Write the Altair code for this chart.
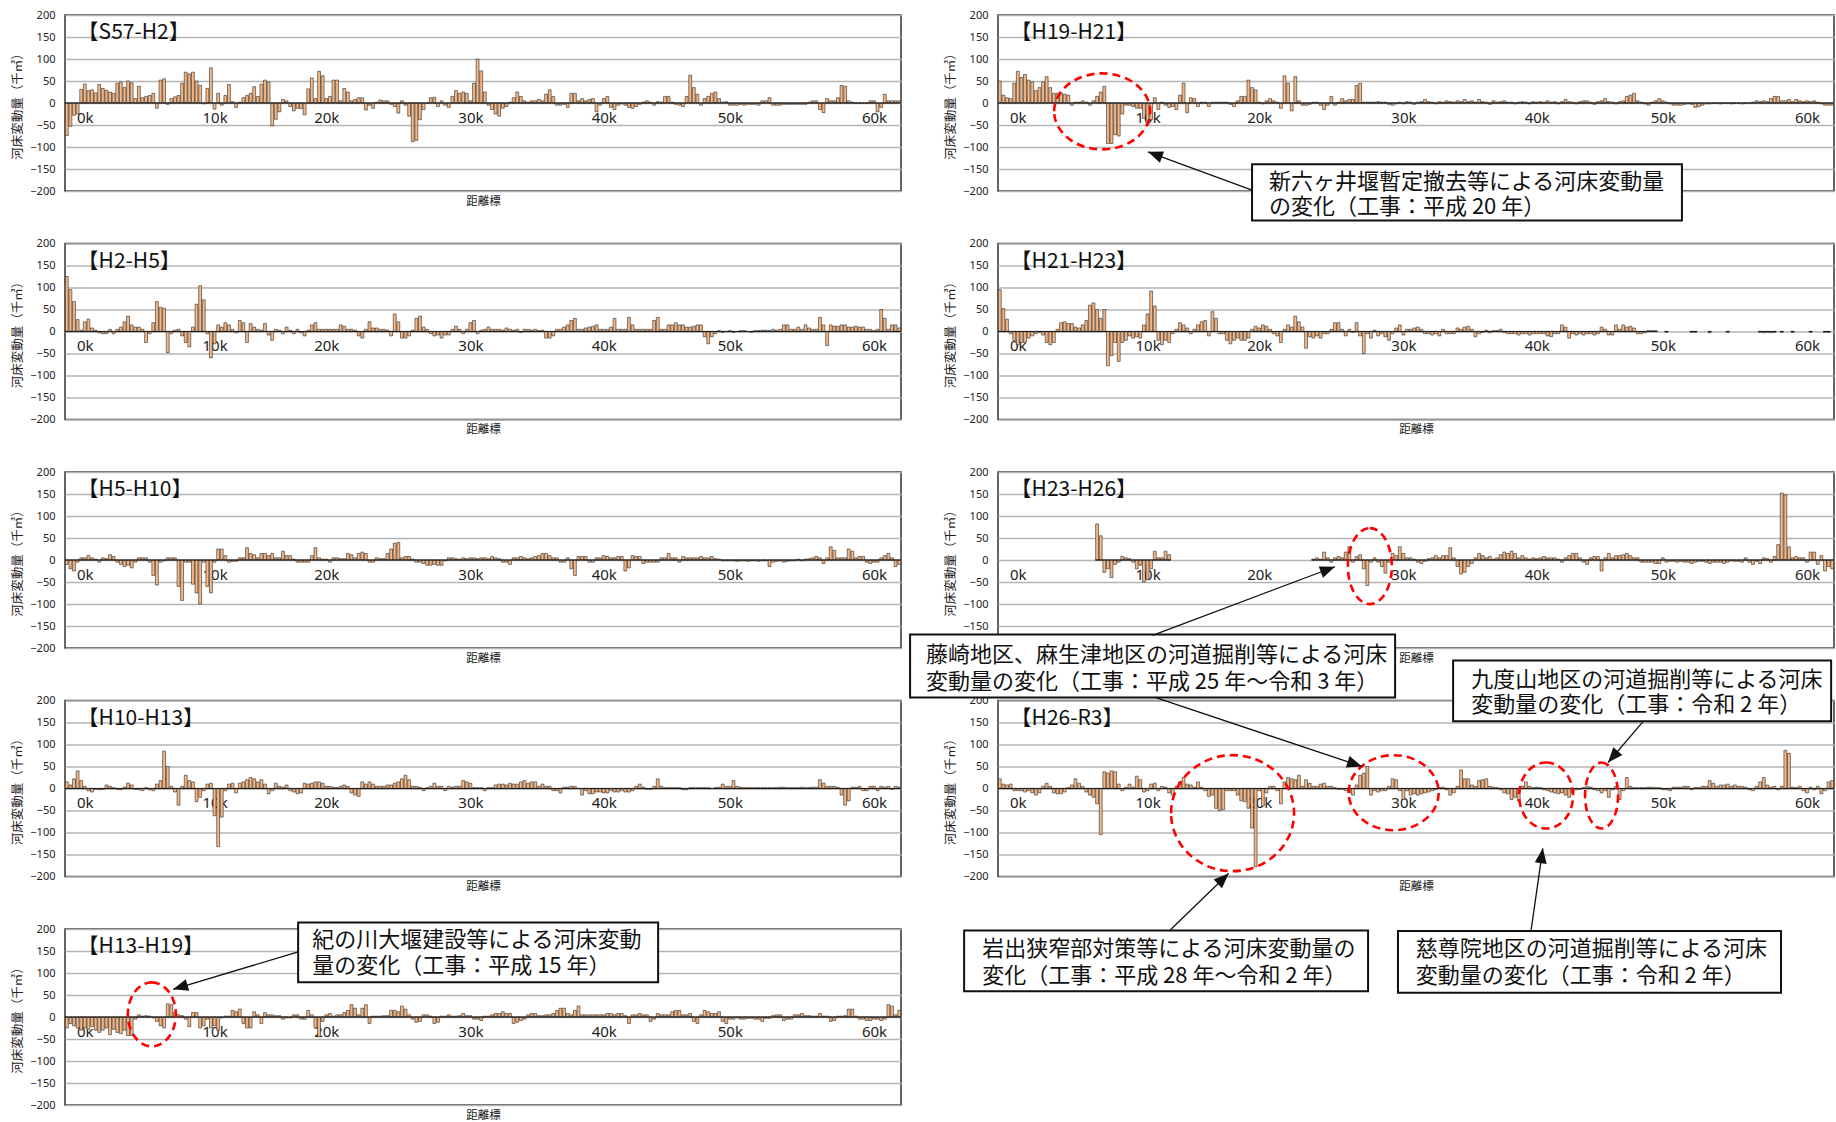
import math
import altair as alt
import pandas as pd

# ---------------------------------------------------------------- layout / style
N_SECTIONS = 232          # cross sections drawn along the x axis (category slots)
PLOT_W, PLOT_H = 836, 176
FONT_JP = "Noto Sans CJK JP"
FONT_NUM = "Noto Sans"
BAR_FILL = "#F6B784"
NA = None

# ---------------------------------------------------------------- axis labels
km_labels = ["0k", "10k", "20k", "30k", "40k", "50k", "60k"]
km_index = [5, 41, 72, 112, 149, 184, 224]
y_ticks = [-200, -150, -100, -50, 0, 50, 100, 150, 200]
y_title = "河床変動量（千㎥）"
x_title = "距離標"

# ---------------------------------------------------------------- data (千m3 per section)
S57_H2 = [
    -74, -53, -28, -25, 31, 43, 28, 30, 23, 42,
    33, 29, 25, 22, 45, 48, 35, 50, 46, 10,
    38, 12, 15, 17, 22, -12, 52, 55, -3, 10,
    14, 17, 45, 70, 66, 70, 50, 40, -2, 33,
    80, -14, 22, -5, 17, 42, 3, -10, 2, 12,
    17, 22, 37, 15, 43, 52, 48, -52, -37, -20,
    8, 5, -8, -18, -12, -13, -27, 32, 57, 10,
    72, 62, 10, 15, 52, 52, 5, 33, 25, 5,
    8, 12, 12, -16, -5, -12, 2, 7, 5, 5,
    -3, -8, -23, 5, -5, -30, -88, -85, -38, -15,
    0, 12, 13, -8, 5, -5, -10, 15, 28, 22,
    25, 22, 5, 45, 100, 73, 25, -5, -15, -25,
    -30, -12, -8, 2, 12, 25, 15, 5, 2, 5,
    5, 8, 5, 20, 30, 15, -5, -5, -3, -10,
    22, 22, 5, 10, 5, 8, 10, -20, -5, 10,
    15, -10, -15, -5, -2, -5, -10, -12, -8, -3,
    2, 5, 2, -5, 3, 2, 15, 15, 2, -3,
    -5, -8, 15, 63, 35, 20, -5, 10, 15, 22,
    25, 10, 2, 3, -5, -5, -5, -3, -5, -3,
    -3, -3, -5, 5, 5, 12, -5, -5, -5, -3,
    -3, -3, -3, -3, -3, -3, 2, 5, 5, -15,
    -22, 10, 5, 5, 12, 40, 38, 5, 2, 0,
    0, 0, 0, 5, 5, -20, -10, 20, 5, 5,
    5, 5,
]

H2_H5 = [
    125, 95, 68, 27, 3, 22, 28, 8, 3, -3,
    -5, -5, 5, -5, 5, 10, 22, 35, 15, 10,
    10, 5, -25, -5, 20, 68, 55, 53, -48, -5,
    3, 5, -10, -25, -35, 10, 62, 104, 72, -5,
    -60, -28, 15, 10, 20, 15, 5, -3, 25, 20,
    -25, 18, 10, 5, 3, 18, -8, -20, 5, 3,
    -5, 10, 3, -5, 5, -3, -10, 3, 15, 20,
    5, 5, 5, 5, 5, 5, 15, 12, 5, 5,
    3, -10, -15, 5, 22, 8, 8, 5, 5, 3,
    -10, 40, 22, -15, -15, -10, 3, 30, 35, 10,
    5, -5, -10, -8, -15, -8, -8, 5, 12, 5,
    -5, 5, 20, 25, -5, 3, 5, 10, 5, 5,
    5, 3, 8, 5, 3, 5, -2, 5, 5, 3,
    5, 2, 3, -15, -15, -10, 5, 5, 10, 15,
    25, 30, 5, 5, 8, 10, 12, 15, 5, 5,
    5, 10, 30, 5, 5, 5, 32, 15, 5, 5,
    5, 5, 5, 25, 32, 5, 5, 15, 15, 20,
    15, 15, 10, 10, 12, 15, 15, -12, -28, -12,
    -5, 2, -2, 0, 2, -2, 0, 2, 2, 0,
    -2, 2, 2, 3, 3, 2, 5, 3, 5, 15,
    15, 5, 5, 10, 5, 15, 8, 5, 5, 32,
    15, -32, 15, 12, 12, 15, 15, 10, 10, 12,
    10, 10, 5, 5, 2, 5, 50, 30, 5, 15,
    15, 8,
]

H5_H10 = [
    -10, -20, -25, -5, 5, 5, 10, 5, 2, -5,
    5, 3, 12, 8, -5, -10, -15, -12, -18, -5,
    5, 5, 5, -5, -35, -57, -5, -2, 5, 5,
    5, -60, -92, -5, -5, -55, -75, -100, -5, -60,
    -75, -5, 25, 25, 10, -5, -3, -3, 5, 5,
    28, 15, 12, 5, 15, 15, 10, 15, 5, 5,
    20, 10, 10, 2, -5, -5, -5, -5, 10, 28,
    5, 2, 2, -5, 5, 5, 3, 3, 15, 12,
    5, 15, 18, 15, -5, -5, 5, 3, 3, 15,
    25, 38, 40, 5, 8, 8, 2, -5, -5, -8,
    -12, -12, -10, -12, -12, -2, 5, 5, 3, 2,
    5, 3, 5, 5, 3, 5, 5, 3, 8, 5,
    3, -5, -5, -10, 5, 5, 8, 5, 3, 5,
    8, 10, 15, 15, 10, 5, 5, -5, -5, 5,
    -20, -35, 8, 8, 8, -5, -5, 5, 5, 10,
    8, 5, 5, 8, 8, -25, -18, 10, 8, 8,
    -8, -5, -5, -5, -5, 5, 5, 15, 5, 5,
    -5, 8, 5, 5, 5, 5, 8, 5, 5, 8,
    3, 2, -2, -2, -2, -2, -3, -2, -2, -3,
    -2, -2, -3, -2, -2, -15, -5, -3, -2, -5,
    -3, -2, -2, 2, -2, 2, 3, 5, 8, 5,
    -8, 5, 30, 22, 5, 5, 5, 25, 20, 5,
    8, 8, -5, -8, -5, -5, 5, 10, 15, 5,
    -15, -10,
]

H10_H13 = [
    15, 8, 22, 40, 18, 5, -5, -8, -2, -3,
    -2, 8, 5, 2, -2, -3, 3, 12, 8, -2,
    -3, -5, 2, -3, -5, 10, 18, 85, 50, 5,
    -8, -38, 5, 30, 18, 15, -30, -20, -5, 10,
    12, -62, -132, -65, -5, 10, 12, -10, 12, 15,
    20, 25, 22, 15, 20, 10, -12, -5, 12, 5,
    3, 8, -5, -8, -12, -10, 12, 10, 12, 15,
    15, 12, 5, 5, 3, 2, 5, 8, 5, -10,
    -15, -18, 15, 10, 15, 10, 5, 5, 5, 8,
    8, 12, 15, 22, 30, 20, 5, 5, 3, -5,
    2, 5, 12, 5, 5, -5, 5, 3, 5, 5,
    18, 15, 12, 2, 2, 2, -5, 2, 2, 8,
    10, 10, 8, 12, 10, 10, 15, 18, 12, 15,
    15, 5, 10, 5, 5, -5, -5, -10, 3, 3,
    5, 5, 0, -15, -5, -12, -12, -8, -8, -10,
    -10, -5, -8, -8, -5, -8, -8, -5, 5, 10,
    3, -2, -2, 5, 22, 5, 2, 2, 2, 2,
    2, -3, -3, 2, 2, 2, 2, 2, 2, 0,
    2, 3, 10, 5, 5, 18, 5, 3, 2, 2,
    2, 2, 2, 2, 2, 2, 2, 2, 3, 3,
    2, 2, 2, 2, 3, 2, 2, 3, 3, 20,
    12, 5, 5, 5, 3, -15, -38, -28, 3, 3,
    5, -5, -5, 5, 5, -5, 5, 3, 5, -2,
    5, 3,
]

H13_H19 = [
    -25, -15, -20, -25, -30, -25, -28, -22, -30, -35,
    -30, -25, -40, -28, -35, -38, -30, -42, -42, -5,
    5, 2, 3, 2, -2, -10, -20, -25, 30, 28,
    10, 5, 3, -5, -22, 10, 10, -25, -20, -5,
    -25, -20, -30, -2, 2, 2, 15, 12, 18, -15,
    -25, -25, 12, 5, -15, 10, 5, 5, 3, 3,
    -5, -2, -2, 5, 5, -5, -5, 15, 5, -25,
    -45, -10, 5, 8, 2, 5, 5, 10, 15, 28,
    20, 5, 20, 28, -15, 2, 2, 2, 3, 3,
    15, 15, 12, 25, 18, 5, -5, -12, -10, 5,
    5, 2, -15, -12, 2, 2, 5, 2, 2, 3,
    8, 3, 3, -5, -5, -8, 2, 2, 5, 8,
    8, 12, 8, 8, -15, -12, -8, -5, 5, 8,
    8, 3, 3, 5, 5, 8, 15, 20, 20, 8,
    5, 15, 25, 5, 5, 5, 5, 5, 5, 5,
    8, 8, 5, 8, 8, 3, -15, 5, 5, 8,
    5, 5, -10, -5, 8, 5, 5, 5, 12, 15,
    15, 5, 5, 8, -10, -15, 5, 15, 12, 8,
    8, 12, -10, -15, -5, -5, -2, -5, -5, -3,
    -3, -5, -5, -10, -3, -3, 3, 5, 5, -8,
    -5, -5, 5, 5, 8, 3, 3, 2, 2, 8,
    2, 2, -10, -8, 2, 2, 3, 18, 18, 2,
    -5, -5, -8, -8, -5, -5, -8, -5, 28, 25,
    5, 15,
]

H19_H21 = [
    50, 18, 12, 10, 45, 72, 58, 65, 52, 48,
    28, 35, 48, 60, 35, 22, 22, 22, 20, 18,
    -5, 2, 2, 5, 2, -5, 5, 15, 25, 38,
    -92, -92, -72, -75, -25, -5, -5, -8, -12, -12,
    -35, -50, -38, 12, -15, 2, -5, -10, -8, -15,
    18, 45, -22, 12, 10, -8, 2, 2, -8, 2,
    2, 2, 2, 2, -3, -8, 5, 15, 15, 52,
    35, 30, 2, -2, 5, 10, 5, 2, -12, 62,
    45, -18, 60, 5, -5, -5, -3, 2, 2, -5,
    -15, -5, 15, -5, 2, 10, 5, 8, 8, 40,
    45, 2, 2, 2, 2, 3, 2, 2, -3, -5,
    -2, 2, -2, 3, 2, -3, 2, 3, 8, 3,
    2, -2, 3, 2, 5, 3, 2, 5, 3, 8,
    3, 5, 2, 8, 3, 2, -3, 5, 2, 3,
    5, 2, 2, -2, 2, 3, 2, -2, 3, 2,
    3, 2, 5, 2, 3, -2, 3, 8, 3, 2,
    -2, 3, 5, 5, 2, -3, 3, 5, 10, 3,
    2, -2, 3, 5, 15, 18, 22, 5, 2, -2,
    -5, 2, 5, 10, 5, 2, -2, -5, -5, -5,
    -3, -2, -3, -10, -8, -5, -2, -2, 0, 0,
    -2, 0, 0, -2, 0, 0, -2, 0, 0, 2,
    5, 3, 5, 3, 10, 15, 15, 5, 5, 8,
    3, 8, 5, 3, 5, 3, 5, 2, -2, -5,
    -5, -5,
]

H21_H23 = [
    95, 52, 28, -5, -20, -30, -25, -25, -15, -10,
    -5, -2, -8, -25, -30, -25, 5, 20, 22, 18,
    18, 10, 8, 15, 25, 60, 65, 50, 30, 50,
    -78, -55, -25, -68, -25, -20, -10, -15, -12, -15,
    15, 40, 92, 58, -20, -30, -20, -25, -5, 5,
    20, 15, 8, -5, 5, 15, 22, 25, -10, 45,
    30, -5, -5, -20, -28, -20, -15, -20, -20, -15,
    5, 12, 8, 15, 12, 5, -5, -10, -25, 5,
    15, 10, 35, 22, 10, -38, -12, -15, -10, -15,
    -5, -5, 5, 20, 20, 5, -10, 5, -2, 20,
    -10, -50, -5, -15, 3, -10, -5, -12, -20, -5,
    8, 15, -8, 5, 5, 8, 10, 5, -5, -5,
    -8, -5, -10, 5, -5, -5, -5, 8, 5, 10,
    12, 5, -12, -5, -2, 3, -3, 2, 2, 5,
    -2, -5, -5, -5, -8, -5, -5, -8, -5, -5,
    -5, -5, -10, -12, -5, -5, 15, 10, -15, -5,
    -8, -5, -8, -5, -5, -8, -5, 10, 5, -8,
    -8, 15, 5, 15, 10, 12, 8, -5, -5, -3,
    2, 2, 2, NA, NA, -2, NA, NA, NA, NA,
    NA, NA, -2, -2, NA, NA, NA, -3, NA, NA,
    NA, NA, -2, NA, NA, NA, NA, NA, NA, NA,
    NA, -2, -3, -2, -3, -2, NA, -2, NA, NA,
    -2, NA, NA, NA, NA, -2, NA, NA, NA, -2,
    -2, NA,
]

H23_H26 = [
    NA, NA, NA, NA, NA, NA, NA, NA, NA, NA,
    NA, NA, NA, NA, NA, NA, NA, NA, NA, NA,
    NA, NA, NA, NA, NA, NA, NA, 82, 55, -28,
    -20, -40, -10, -5, 8, 5, 3, -5, -20, -12,
    -50, -45, -20, 20, 5, 5, 20, 12, NA, NA,
    NA, NA, NA, NA, NA, NA, NA, NA, NA, NA,
    NA, NA, NA, NA, NA, NA, NA, NA, NA, NA,
    NA, NA, NA, NA, NA, NA, NA, NA, NA, NA,
    NA, NA, NA, NA, NA, NA, NA, 2, 5, 2,
    18, 5, -5, 5, 8, 5, 18, 30, -5, 8,
    12, -20, -58, -5, 5, -5, -15, -30, -5, 15,
    10, 30, 15, 5, 5, 2, -5, -8, -3, 3,
    5, 10, 5, 10, 10, 28, 5, -15, -32, -28,
    -15, -8, 5, 15, 10, 5, 8, 2, 5, 12,
    18, 15, 20, 15, 5, 10, 5, 2, 5, 3,
    5, 8, 5, 5, 5, 2, -5, 5, 10, 15,
    15, 5, -5, -10, 5, 8, 8, -25, 5, 15,
    5, 10, 10, 12, 15, 10, 5, 5, -5, -5,
    -5, -5, -8, -8, 5, -5, -3, -3, -5, -3,
    -5, -5, -8, -5, -3, -3, -5, -8, -5, -5,
    -5, -8, -5, -2, -3, -3, -5, 5, -5, -10,
    -3, -8, 5, 3, -5, 8, 35, 152, 148, 30,
    5, 8, 5, 5, -5, 18, 18, -10, 10, -25,
    -15, -20,
]

H26_R3 = [
    22, 10, 8, 10, -5, -5, -5, -8, -5, -10,
    -15, -10, 5, 12, 5, -10, -12, -12, -8, 2,
    8, 22, 12, 5, -8, -15, -20, -35, -105, 38,
    35, 40, 38, 10, -5, 3, 10, 3, 28, 20,
    -8, -5, 10, 12, -5, 5, 3, -10, -15, 5,
    15, 25, 10, 8, 3, 15, 3, -5, -18, -15,
    -45, -50, -48, -5, -5, -5, -15, -28, -30, -45,
    -90, -178, -5, -40, -10, 5, 5, -5, -35, 15,
    25, 22, 20, 30, 5, 20, 12, 5, 5, 10,
    12, 5, 5, 2, -2, -2, -5, -10, -15, 8,
    30, 35, 50, -15, -5, -8, -5, -5, 5, 22,
    20, -5, -25, -5, -15, -12, -15, -12, -10, -8,
    -5, -3, 2, 3, -3, -15, -10, 5, 42, 22,
    22, 8, 5, 18, 20, 22, 5, 3, 2, -3,
    -10, -12, -25, -20, -28, 5, 15, 5, 2, 3,
    2, -3, -5, -8, -10, -12, -10, -15, -20, -10,
    -3, -2, 2, 5, 3, -3, -5, -10, -5, -20,
    -3, 5, -25, -5, 25, 5, 2, 2, 2, 2,
    3, 3, 2, 2, -3, -3, -5, 3, 3, 3,
    5, 5, -3, 2, 2, 5, 5, 18, 12, 5,
    8, 8, 10, 5, 8, 5, 5, 3, -3, -5,
    5, 15, 25, 8, 3, 5, -3, 5, 87, 80,
    3, 2, 5, -5, -10, 3, -3, 5, -12, -5,
    15, 18,
]

# ---------------------------------------------------------------- annotations (data units of each panel)
# ellipses: (x, y, rx_px, ry_px); arrows: (x_tail, y_tail, x_tip, y_tip)
# boxes: (x, x2, y, y2, text_x, [(text_y, line), ...])
ANNOTATIONS = {
    "【H19-H21】": {
        "ellipses": [(28.9, -19, 48, 38)],
        "arrows": [(70.5, -198, 41.6, -111)],
        "boxes": [(70.5, 189.8, -139, -267, 75.2,
                   [(-179, "新六ヶ井堰暫定撤去等による河床変動量"),
                    (-237, "の変化（工事：平成 20 年）")])],
    },
    "【H13-H19】": {
        "ellipses": [(24.1, 6, 24, 32)],
        "arrows": [(64.7, 148, 30, 63)],
        "boxes": [(64.7, 164.6, 215, 79, 68.6,
                   [(176, "紀の川大堰建設等による河床変動"),
                    (116, "量の変化（工事：平成 15 年）")])],
    },
    "【H23-H26】": {
        "ellipses": [(103.2, -14, 22, 38)],
    },
    "【H26-R3】": {
        "ellipses": [(65.1, -56, 61.5, 58), (109.8, -9.5, 45, 37.5),
                     (152.1, -16, 27, 33), (167.5, -16, 16.5, 33)],
        "arrows": [(42.9, 348, 93.5, 504), (43.6, 207, 101, 50),
                   (179, 152, 169.3, 59), (47.5, -324, 64, -193),
                   (147.9, -324, 151.2, -136)],
        "boxes": [
            (-24.4, 110.2, 350, 207, -20,
             [(303, "藤崎地区、麻生津地区の河道掘削等による河床"),
              (242.5, "変動量の変化（工事：平成 25 年～令和 3 年）")]),
            (126.3, 231.2, 291, 153, 131.3,
             [(246, "九度山地区の河道掘削等による河床"),
              (189, "変動量の変化（工事：令和 2 年）")]),
            (-9.4, 102.7, -323, -461, -4.4,
             [(-364, "岩出狭窄部対策等による河床変動量の"),
              (-426, "変化（工事：平成 28 年～令和 2 年）")]),
            (111, 217.3, -324, -464, 115.9,
             [(-364, "慈尊院地区の河道掘削等による河床"),
              (-426, "変動量の変化（工事：令和 2 年）")]),
        ],
    },
}

# ---------------------------------------------------------------- helpers
PX_X = PLOT_W / N_SECTIONS
PX_Y = PLOT_H / 400.0
tick_vals = [k + 0.5 for k in km_index]
label_expr = " : ".join(f"datum.value == {v} ? '{l}'" for v, l in zip(tick_vals, km_labels)) + " : ''"
ARROW_HEAD = "M 0 0 L 0.4 1 L -0.4 1 Z"

X_AXIS = alt.Axis(
    values=tick_vals, labelExpr=label_expr, orient="bottom", offset=-PLOT_H / 2,
    domain=False, ticks=False, tickSize=0, grid=False,
    labelPadding=7, labelFont=FONT_NUM, labelFontSize=15, labelColor="#222222",
    labelFlush=False, labelOverlap=False,
    title=x_title, titleFont=FONT_JP, titleFontSize=11.5, titleFontWeight="normal",
    titleColor="#222222", titleY=PLOT_H / 2 + 10, titleBaseline="middle",
)
Y_AXIS = alt.Axis(
    values=y_ticks, grid=True, gridColor="#B4B4B4", gridWidth=1.5,
    domain=False, ticks=False, tickSize=0, labelPadding=10,
    labelFont=FONT_NUM, labelFontSize=11, labelColor="#222222",
    title=y_title, titleFont=FONT_JP, titleFontSize=12.5, titleFontWeight="normal",
    titleColor="#222222", titlePadding=5,
)


def ellipse_path(rx, ry):
    if rx >= ry:
        k = ry / rx
        return f"M -1 0 A 1 {k:.4f} 0 1 1 1 0 A 1 {k:.4f} 0 1 1 -1 0 Z", (2 * rx) ** 2
    k = rx / ry
    return f"M 0 -1 A {k:.4f} 1 0 1 1 0 1 A {k:.4f} 1 0 1 1 0 -1 Z", (2 * ry) ** 2


def scales():
    return (alt.Scale(domain=[0, N_SECTIONS], nice=False, zero=False),
            alt.Scale(domain=[-200, 200], nice=False, zero=False))


def xy(xs, ys, xf="x", yf="y"):
    return dict(x=alt.X(f"{xf}:Q", scale=xs, axis=X_AXIS),
                y=alt.Y(f"{yf}:Q", scale=ys, axis=Y_AXIS))


def panel(name, values):
    xs, ys = scales()
    rows = [{"i": i, "v": v} for i, v in enumerate(values) if v is not None]
    df = pd.DataFrame(rows)
    df["x0"] = df["i"] + 0.1
    df["x1"] = df["i"] + 0.9
    df["xe"] = df["i"] + 1.0
    df["z"] = 0

    bars = alt.Chart(df).mark_bar(fill=BAR_FILL, stroke="#1a1a1a", strokeWidth=0.55, opacity=1).encode(
        x2="x1:Q", y2="z:Q", **xy(xs, ys, "x0", "v"))
    zero = alt.Chart(df).mark_rule(color="#1a1a1a", strokeWidth=1.2).encode(
        x2="xe:Q", **xy(xs, ys, "i", "z"))
    title = alt.Chart(pd.DataFrame({"x": [3.5], "y": [159], "t": [name]})).mark_text(
        align="left", baseline="middle", font=FONT_JP, fontSize=21, color="#111111"
    ).encode(text="t:N", **xy(xs, ys))

    layers = [bars, zero, title]
    ann = ANNOTATIONS.get(name, {})
    for cx, cy, rx, ry in ann.get("ellipses", []):
        path, size = ellipse_path(rx, ry)
        layers.append(
            alt.Chart(pd.DataFrame({"x": [cx], "y": [cy]})).mark_point(
                shape=path, size=size, filled=False, color="#FF0000", stroke="#FF0000",
                strokeWidth=2.6, strokeDash=[8, 5], opacity=1
            ).encode(**xy(xs, ys))
        )
    for bx, bx2, by, by2, tx, lines in ann.get("boxes", []):
        layers.append(
            alt.Chart(pd.DataFrame({"x": [bx], "x2": [bx2], "y": [by], "y2": [by2]})).mark_rect(
                fill="white", stroke="#111111", strokeWidth=2, opacity=1
            ).encode(x2="x2:Q", y2="y2:Q", **xy(xs, ys))
        )
        layers.append(
            alt.Chart(pd.DataFrame({"x": [tx] * len(lines), "y": [l[0] for l in lines],
                                    "t": [l[1] for l in lines]})).mark_text(
                align="left", baseline="middle", font=FONT_JP, fontSize=22, color="#111111"
            ).encode(text="t:N", **xy(xs, ys))
        )
    arrows = ann.get("arrows", [])
    if arrows:
        adf = pd.DataFrame(arrows, columns=["x", "y", "xt", "yt"])
        adf["ang"] = [
            math.degrees(math.atan2((r.xt - r.x) * PX_X, (r.yt - r.y) * PX_Y)) % 360
            for r in adf.itertuples()
        ]
        layers.append(
            alt.Chart(adf).mark_rule(color="#111111", strokeWidth=1.3).encode(
                x2="xt:Q", y2="yt:Q", **xy(xs, ys))
        )
        layers.append(
            alt.Chart(adf).mark_point(shape=ARROW_HEAD, filled=True, color="#111111",
                                      size=900, opacity=1).encode(
                angle=alt.Angle("ang:Q", scale=None), **xy(xs, ys, "xt", "yt"))
        )
    return alt.layer(*layers).properties(width=PLOT_W, height=PLOT_H)


left = [("【S57-H2】", S57_H2), ("【H2-H5】", H2_H5), ("【H5-H10】", H5_H10),
        ("【H10-H13】", H10_H13), ("【H13-H19】", H13_H19)]
right = [("【H19-H21】", H19_H21), ("【H21-H23】", H21_H23),
         ("【H23-H26】", H23_H26), ("【H26-R3】", H26_R3)]

cells = []
for k in range(len(left)):
    cells.append(panel(*left[k]))
    if k < len(right):
        cells.append(panel(*right[k]))

chart = alt.concat(
    *cells, columns=2, spacing={"row": 52.5, "column": 97}, bounds="flush"
).properties(
    padding={"left": 11, "top": 8, "right": 0, "bottom": 0}
).configure_view(stroke="#333333", strokeWidth=1.5)

chart.save("out.html", embed_options={"renderer": "svg", "actions": False})
